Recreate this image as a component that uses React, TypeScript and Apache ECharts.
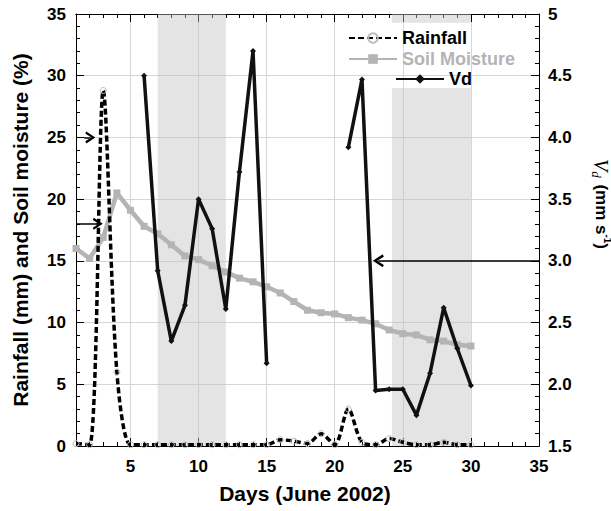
import React, { useEffect, useRef } from "react";
import * as echarts from "echarts";

const days = [1, 2, 3, 4, 5, 6, 7, 8, 9, 10, 11, 12, 13, 14, 15, 16, 17, 18, 19, 20, 21, 22, 23, 24, 25, 26, 27, 28, 29, 30];
const rainfall = [0.2, 0.1, 28.8, 6.0, 0.1, 0.1, 0.1, 0.1, 0.1, 0.1, 0.1, 0.1, 0.1, 0.1, 0.1, 0.5, 0.4, 0.2, 1.0, 0.1, 3.0, 0.3, 0.1, 0.6, 0.3, 0.1, 0.1, 0.3, 0.1, 0.1];
const soilMoisture = [16.0, 15.2, 16.9, 20.5, 19.1, 17.8, 17.2, 16.3, 15.4, 15.1, 14.6, 14.1, 13.6, 13.3, 12.9, 12.4, 11.7, 11.0, 10.8, 10.7, 10.4, 10.2, 9.9, 9.4, 9.1, 9.0, 8.6, 8.5, 8.2, 8.1];
const vd = [null, null, null, null, null, 4.5, 2.92, 2.35, 2.64, 3.5, 3.26, 2.61, 3.72, 4.7, 2.17, null, null, null, null, null, 3.92, 4.47, 1.95, 1.96, 1.96, 1.75, 2.09, 2.62, 2.29, 1.99];
const leftTicks = { min: 0, max: 35, interval: 5 };
const rightTicks = { min: 1.5, max: 5, interval: 0.5 };
const shadedDays = [[7, 12], [24.2, 30]];

const FONT = "Liberation Sans";
const CHEVRON = "path://M0,18 L10,0 L20,18 L16.5,20 L10,8 L3.5,20 Z";

export default function App() {
  const ref = useRef<HTMLDivElement>(null);
  useEffect(() => {
    document.body.style.margin = "0";
    if (!ref.current) return;
    const chart = echarts.init(ref.current, null, { renderer: "svg" });
    const gridColor = "#d6d6d6";
    const axisLine = { show: true, onZero: false, lineStyle: { color: "#000", width: 1 } };
    const labelStyle = { fontFamily: FONT, fontSize: 17, fontWeight: "bold", color: "#000" };
    const arrowLine = { color: "#000", width: 1.5, type: "solid" };
    const option: any = {
      animation: false,
      backgroundColor: "#fff",
      textStyle: { fontFamily: FONT },
      grid: { left: 76, right: 72, top: 14, bottom: 65 },
      legend: [
        {
          data: [
            { name: "Rainfall", textStyle: { color: "#000" } },
            { name: "Soil Moisture", textStyle: { color: "#b4b4b4" } },
          ],
          orient: "vertical",
          left: 348,
          top: 28,
          itemWidth: 48,
          itemHeight: 12,
          itemGap: 1,
          padding: 0,
          textStyle: { fontFamily: FONT, fontSize: 18, fontWeight: "bold", lineHeight: 20 },
        },
        {
          data: [{ name: "Vd", textStyle: { color: "#000" } }],
          orient: "vertical",
          left: 395,
          top: 69,
          itemWidth: 48,
          itemHeight: 12,
          padding: 0,
          textStyle: { fontFamily: FONT, fontSize: 18, fontWeight: "bold", lineHeight: 20 },
        },
      ],
      xAxis: [
        {
          type: "value", position: "bottom", min: 1, max: 35, interval: 1,
          axisLine,
          axisTick: { show: true, inside: true, length: 4, lineStyle: { color: "#000" } },
          axisLabel: { ...labelStyle, margin: 12, formatter: (v: number) => (v % 5 === 0 ? String(v) : "") },
          splitLine: { show: false },
        },
        {
          type: "value", position: "top", min: 1, max: 35, interval: 1,
          axisLine,
          axisTick: { show: true, inside: true, length: 4, lineStyle: { color: "#000" } },
          axisLabel: { show: false },
          splitLine: { show: false },
        },
        {
          type: "value", position: "bottom", min: 1, max: 35, splitNumber: 7,
          axisLine,
          axisTick: { show: true, inside: true, length: 8, lineStyle: { color: "#000" } },
          axisLabel: { show: false },
          splitLine: { show: true, lineStyle: { color: gridColor, width: 1 } },
        },
        {
          type: "value", position: "top", min: 1, max: 35, splitNumber: 7,
          axisLine,
          axisTick: { show: true, inside: true, length: 8, lineStyle: { color: "#000" } },
          axisLabel: { show: false },
          splitLine: { show: false },
        },
      ],
      yAxis: [
        {
          type: "value", position: "left", ...leftTicks,
          axisLine,
          axisTick: { show: true, inside: true, length: 8, lineStyle: { color: "#000" } },
          minorTick: { show: true, splitNumber: 5, length: 4, lineStyle: { color: "#000", width: 1 } },
          axisLabel: { ...labelStyle, margin: 10 },
          splitLine: { show: true, lineStyle: { color: gridColor, width: 1 } },
        },
        {
          type: "value", position: "right", ...rightTicks,
          axisLine,
          axisTick: { show: true, inside: true, length: 8, lineStyle: { color: "#000" } },
          minorTick: { show: true, splitNumber: 5, length: 4, lineStyle: { color: "#000", width: 1 } },
          axisLabel: { ...labelStyle, margin: 9, formatter: (v: number) => (v === 5 ? "5" : v.toFixed(1)) },
          splitLine: { show: false },
        },
      ],
      series: [
        {
          name: "Rainfall", type: "line", xAxisIndex: 0, yAxisIndex: 0, z: 4,
          data: days.map((d, i) => [d, rainfall[i]]),
          smooth: 0.3,
          symbol: "circle", symbolSize: 6,
          itemStyle: { color: "rgba(255,255,255,0)", borderColor: "#bdbdbd", borderWidth: 1 },
          lineStyle: { color: "#000", width: 3.5, type: [6, 3] },
          markArea: {
            silent: true,
            itemStyle: { color: "#c4c4c4", opacity: 0.45 },
            data: [
              [{ coord: [shadedDays[0][0], 0] }, { coord: [shadedDays[0][1], 35] }],
              [{ coord: [shadedDays[1][0], 0] }, { coord: [shadedDays[1][1], 29] }],
              [{ coord: [shadedDays[1][0], 34.3] }, { coord: [shadedDays[1][1], 35] }],
            ],
          },
          markLine: {
            silent: true,
            symbol: ["none", CHEVRON],
            symbolSize: [12, 10],
            label: { show: false },
            lineStyle: arrowLine,
            data: [
              [{ coord: [1.6, 25] }, { coord: [2.05, 25] }],
              [{ coord: [1, 18] }, { coord: [2.6, 18] }],
            ],
          },
        },
        {
          name: "Soil Moisture", type: "line", xAxisIndex: 0, yAxisIndex: 0, z: 3,
          data: days.map((d, i) => [d, soilMoisture[i]]),
          symbol: "rect", symbolSize: 7,
          itemStyle: { color: "#b4b4b4" },
          lineStyle: { color: "#b4b4b4", width: 4.5 },
        },
        {
          name: "Vd", type: "line", xAxisIndex: 0, yAxisIndex: 1, z: 5,
          data: days.map((d, i) => [d, vd[i]]),
          symbol: "diamond", symbolSize: 6,
          itemStyle: { color: "#111" },
          lineStyle: { color: "#111", width: 3.5 },
          markLine: {
            silent: true,
            symbol: ["none", CHEVRON],
            symbolSize: [13, 11],
            label: { show: false },
            lineStyle: arrowLine,
            data: [[{ coord: [35, 3.0] }, { coord: [23.2, 3.0] }]],
          },
        },
      ],
      graphic: [
        {
          type: "text", x: 305, y: 493,
          style: { text: "Days (June 2002)", font: `bold 21px "${FONT}"`, fill: "#000", align: "center", verticalAlign: "middle" },
        },
        {
          type: "text", x: 20, y: 230, rotation: Math.PI / 2,
          style: { text: "Rainfall (mm) and Soil moisture (%)", font: `bold 21px "${FONT}"`, fill: "#000", align: "center", verticalAlign: "middle" },
        },
        {
          type: "text", x: 601, y: 204, rotation: -Math.PI / 2,
          style: {
            text: "{v|V}{d|d}  {u|(mm s}{s|-1}{u|)}",
            align: "center", verticalAlign: "middle",
            rich: {
              v: { font: `italic 20px "Liberation Serif"`, fill: "#000", lineHeight: 22, verticalAlign: "middle" },
              d: { font: `italic 13px "Liberation Serif"`, fill: "#000", lineHeight: 22, verticalAlign: "bottom" },
              u: { font: `bold 17px "${FONT}"`, fill: "#000", lineHeight: 22, verticalAlign: "middle" },
              s: { font: `bold 10px "${FONT}"`, fill: "#000", lineHeight: 22, verticalAlign: "top" },
            },
          },
        },
      ],
    };
    chart.setOption(option);
    return () => chart.dispose();
  }, []);
  return <div ref={ref} style={{ width: 611, height: 511 }} />;
}
